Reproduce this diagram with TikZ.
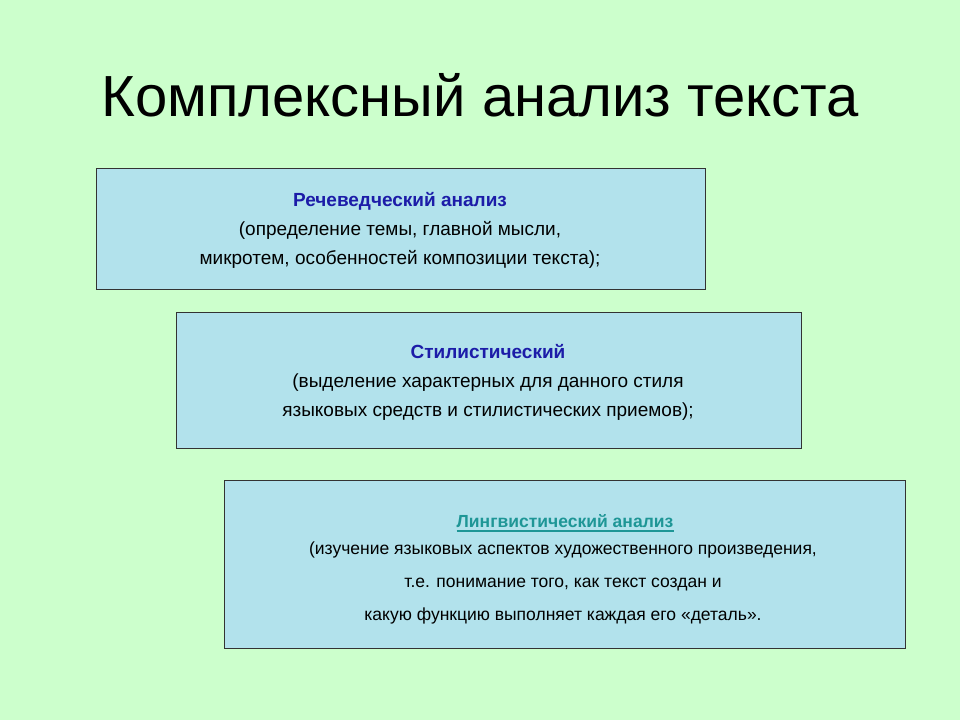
\documentclass[tikz,border=0pt]{standalone}
\usepackage{fontspec}
\setmainfont{Liberation Sans}
\definecolor{bg}{HTML}{CCFFCC}
\definecolor{boxc}{HTML}{B2E2EC}
\definecolor{hblue}{HTML}{1C1CA8}
\definecolor{hteal}{HTML}{1E9696}
\begin{document}
\begin{tikzpicture}[x=1pt,y=-1pt,
  panel/.style={draw=black!80,fill=boxc,line width=0.8pt},
  txt/.style={align=center,font=\fontsize{19}{29}\selectfont,inner sep=0}]
\fill[bg] (0,0) rectangle (960,720);
\useasboundingbox (0,0) rectangle (960,720);
\node[font=\fontsize{58}{60}\selectfont] (title) at (480,95) {Комплексный анализ текста};
\draw[panel] (96,168) rectangle (705,289) node[midway] (b1) {};
\node[txt] (t1) at (400,230) {\textcolor{hblue}{\textbf{Речеведческий анализ}}\\(определение темы, главной мысли,\\микротем, особенностей композиции текста);};
\draw[panel] (176,312) rectangle (801,448) node[midway] (b2) {};
\node[txt] (t2) at (488,382) {\textcolor{hblue}{\textbf{Стилистический}}\\(выделение характерных для данного стиля\\языковых средств и стилистических приемов);};
\draw[panel] (224,480) rectangle (905,648) node[midway] (b3) {};
\node[txt,font=\fontsize{17.5}{33}\selectfont,anchor=north] (t3) at (563,542) {(изучение языковых аспектов художественного произведения,\\т.е. понимание того, как текст создан и\\какую функцию выполняет каждая его «деталь».};
\node[inner sep=0,font=\fontsize{17.5}{20}\selectfont\bfseries,text=hteal,anchor=base] (h3) at (565,527) {Лингвистический анализ};
\draw[hteal,line width=1.2pt] ([yshift=-4pt]h3.base west) -- ([yshift=-4pt]h3.base east);
\end{tikzpicture}
\end{document}
